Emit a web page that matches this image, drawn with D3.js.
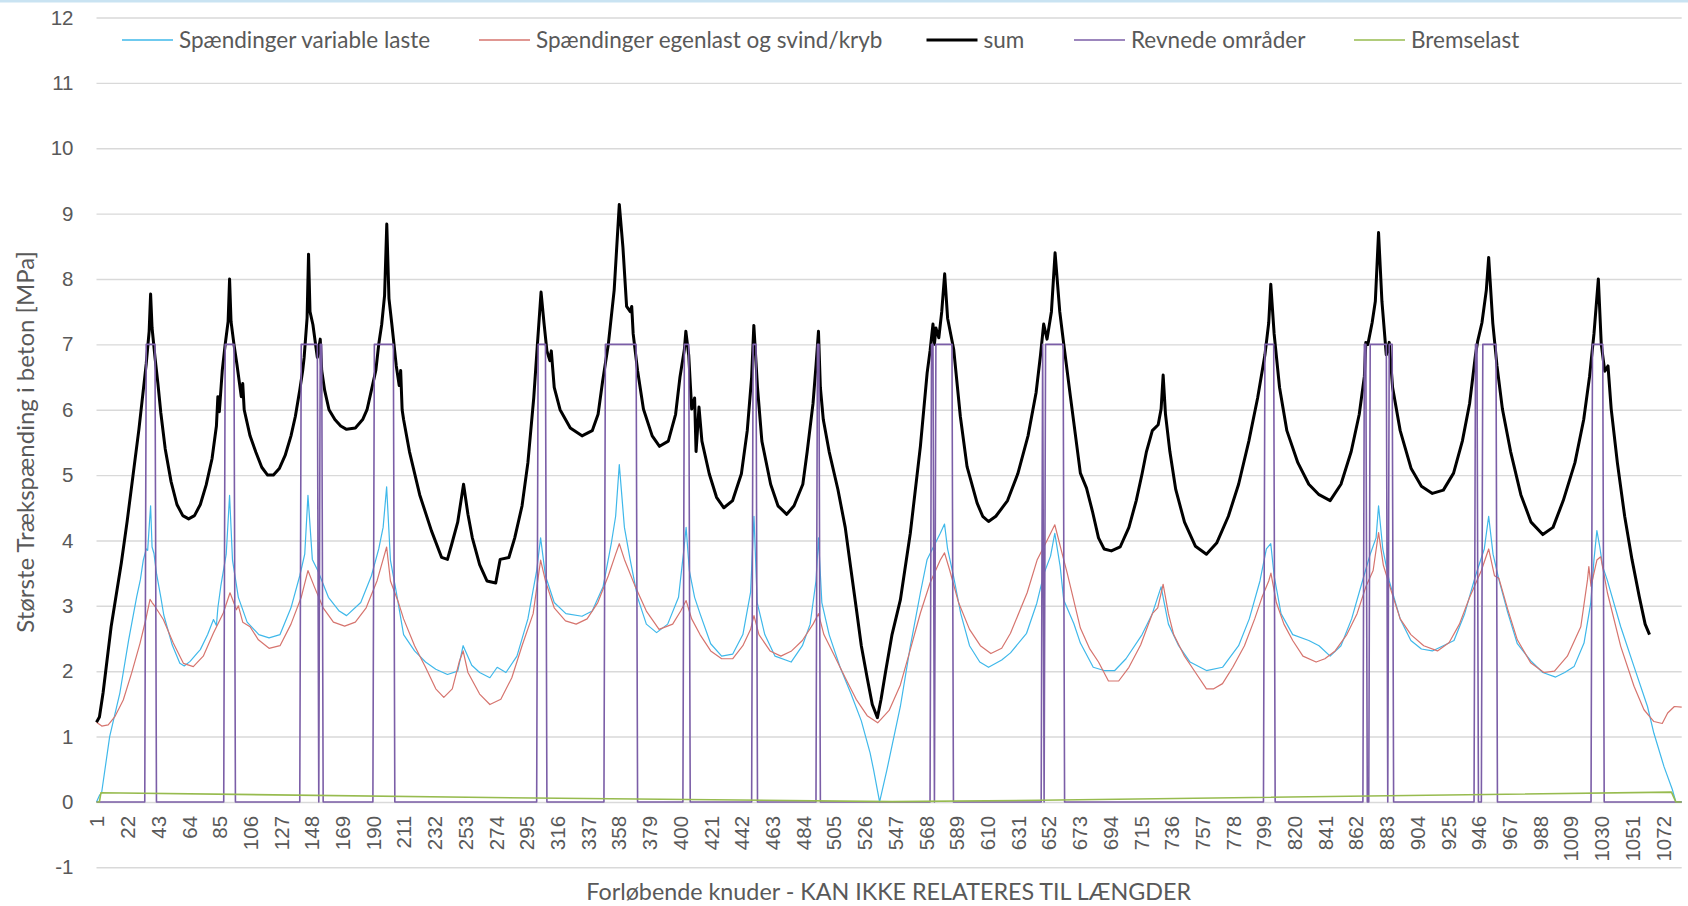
<!DOCTYPE html>
<html>
<head>
<meta charset="utf-8">
<script src="https://cdn.jsdelivr.net/npm/d3@7"></script>
<style>
  body { margin: 0; background: #fff; }
  svg { display: block; font-family: Lato, "Open Sans", sans-serif; }
</style>
</head>
<body>
<div id="chart"></div>
<script>
// node count on the category axis
const nodeCount = 1085;

const yTicks = [-1, 0, 1, 2, 3, 4, 5, 6, 7, 8, 9, 10, 11, 12];
const xTickLabels = [1, 22, 43, 64, 85, 106, 127, 148, 169, 190, 211, 232, 253, 274, 295, 316, 337, 358,
  379, 400, 421, 442, 463, 484, 505, 526, 547, 568, 589, 610, 631, 652, 673, 694, 715, 736, 757, 778,
  799, 820, 841, 862, 883, 904, 925, 946, 967, 988, 1009, 1030, 1051, 1072];

const seriesNames = ["Spændinger variable laste", "Spændinger egenlast og svind/kryb", "sum", "Revnede områder", "Bremselast"];

// [node, MPa]
const spVariable = [[1,0],[3,0.1],[4.5,0.14],[10,1.0],[17,1.67],[23,2.48],[28.5,3.14],[31,3.4],[33,3.7],[35,3.87],[36,3.85],[37,4.2],[38,4.53],[39,3.9],[40.3,3.8],[42,3.5],[45,3.13],[47,2.86],[52.8,2.4],[58,2.12],[61,2.08],[65,2.15],[70,2.28],[72,2.33],[77,2.56],[81,2.79],[83,2.7],[84,2.97],[86,3.3],[89.7,3.79],[92,4.69],[94,3.7],[98,3.13],[104,2.75],[112,2.56],[119,2.51],[126.5,2.56],[134,2.97],[140,3.46],[143.4,3.79],[145.6,4.69],[148.6,3.71],[152.3,3.54],[159.6,3.13],[167,2.92],[172,2.85],[181.7,3.05],[189,3.46],[194,3.87],[197,4.2],[199.4,4.82],[202,3.7],[206,3.21],[211,2.56],[218.5,2.31],[226,2.14],[233,2.03],[241,1.95],[248,2.0],[251.7,2.39],[257.6,2.09],[263,1.98],[270,1.9],[275,2.06],[281,1.98],[288.5,2.23],[296,2.8],[302,3.54],[304.7,4.04],[308,3.46],[314,3.05],[322,2.88],[333,2.84],[340,2.92],[347.4,3.29],[353,3.95],[356,4.37],[358.5,5.16],[362,4.2],[366,3.7],[371,3.13],[377,2.72],[384,2.59],[391.6,2.72],[399,3.13],[402.7,3.87],[404.2,4.2],[406.4,3.54],[410,3.13],[413.7,2.88],[421,2.42],[428.5,2.23],[436,2.26],[443,2.56],[448.3,3.21],[450.6,4.37],[452.8,3.05],[458,2.56],[465,2.23],[476,2.14],[483.7,2.39],[489,2.72],[493,3.38],[494.7,4.04],[497,3.05],[502,2.56],[509.5,2.06],[517,1.65],[524,1.24],[530,0.75],[532.4,0.49],[536.5,0],[541.5,0.49],[550.7,1.46],[557.5,2.38],[564.4,3.2],[569,3.71],[578,4.11],[580.9,4.25],[583,3.87],[587,3.46],[592,2.88],[598,2.39],[605,2.14],[611,2.06],[620,2.17],[626,2.28],[637,2.58],[644,3.04],[649,3.5],[653.4,3.76],[656.3,4.11],[660,3.6],[662.4,3.09],[669.3,2.73],[673.8,2.43],[682.6,2.06],[690,2.01],[697.3,2.01],[705,2.19],[716,2.56],[723,2.88],[729,3.29],[730.4,3.13],[734,2.72],[741,2.39],[748.8,2.14],[760,2.01],[771,2.06],[782,2.39],[789.3,2.8],[796.6,3.38],[801,3.87],[804,3.95],[806.3,3.46],[811,2.88],[819,2.56],[830,2.47],[837,2.39],[844.6,2.23],[852,2.39],[859.3,2.8],[866.7,3.38],[872,3.79],[876,4.04],[877.7,4.53],[880.6,3.87],[885,3.38],[892.5,2.8],[899.8,2.47],[907,2.34],[914.5,2.31],[922,2.39],[929.3,2.47],[936.6,2.88],[944,3.46],[950,3.87],[953,4.37],[956,3.79],[960,3.4],[966,2.9],[972.6,2.42],[981.7,2.16],[990,1.98],[998.8,1.91],[1005,1.98],[1011.4,2.07],[1018.2,2.43],[1022.8,3.04],[1025,3.7],[1027,4.15],[1029,3.9],[1031,3.6],[1034,3.4],[1043.3,2.68],[1052.4,2.07],[1061.6,1.46],[1066,1.05],[1072.9,0.54],[1078.6,0.19],[1081,0],[1085,0]];

const spEgenlast = [[1,1.22],[4.6,1.16],[9,1.18],[13.7,1.31],[19.3,1.56],[25,1.97],[30.8,2.43],[34.9,2.81],[37.6,3.1],[39,3.05],[41,2.99],[46.7,2.79],[53.5,2.43],[60.4,2.12],[67.2,2.07],[74,2.23],[80.9,2.58],[87.7,2.89],[92.3,3.2],[94,3.1],[96.7,2.94],[98,3.0],[101,2.75],[106,2.68],[111.7,2.48],[119,2.35],[126.5,2.39],[134,2.72],[141,3.13],[145.6,3.54],[150,3.29],[156,2.97],[163,2.75],[170.7,2.69],[178,2.75],[185.4,2.97],[192.8,3.38],[197,3.71],[199.4,3.9],[202,3.38],[207.5,3.05],[211,2.8],[218.5,2.39],[226,2.06],[233,1.73],[238.5,1.6],[244.3,1.73],[249,2.14],[251.7,2.31],[255,1.98],[263,1.65],[270,1.49],[277.5,1.57],[285,1.9],[292,2.39],[299.6,2.88],[304.7,3.7],[308,3.38],[314,2.97],[321.7,2.77],[329,2.72],[336.5,2.8],[343.8,3.05],[351,3.46],[356,3.79],[358.5,3.95],[362,3.71],[369.5,3.29],[377,2.92],[385.7,2.64],[395,2.72],[400.5,2.92],[404.2,3.08],[408,2.8],[413.7,2.56],[421,2.31],[428.5,2.19],[436,2.19],[443,2.39],[448.3,2.64],[450.6,2.85],[454,2.56],[461.6,2.31],[469,2.23],[476.3,2.31],[483.7,2.47],[491,2.72],[494.7,2.88],[498.4,2.56],[505.8,2.23],[513,1.9],[520.5,1.57],[528,1.32],[535.2,1.21],[543,1.4],[550.7,1.79],[557.5,2.33],[564.4,2.89],[571,3.35],[578,3.7],[580.9,3.81],[584.5,3.54],[590.5,3.05],[598,2.64],[605.4,2.39],[612.6,2.27],[620,2.35],[626,2.58],[637.4,3.2],[644.2,3.7],[651,4.0],[656.3,4.24],[660.5,3.87],[664.8,3.5],[673.8,2.66],[680,2.35],[686.2,2.14],[693,1.85],[700,1.85],[707,2.06],[715,2.4],[723,2.88],[726.7,2.97],[730.4,3.33],[734,2.88],[737.6,2.56],[745,2.23],[752.5,1.98],[760,1.73],[765,1.73],[771,1.81],[778,2.06],[786,2.39],[793,2.8],[798,3.13],[802.6,3.38],[804.1,3.5],[807.8,3.05],[813,2.72],[819,2.47],[826,2.23],[835,2.14],[841,2.19],[848,2.31],[856,2.56],[863,2.88],[869,3.29],[874,3.54],[877.7,4.12],[881,3.62],[886.6,3.21],[892.5,2.8],[899.8,2.56],[908.6,2.39],[918,2.31],[926,2.44],[933,2.72],[940,3.13],[948,3.54],[953,3.87],[957,3.46],[960,3.42],[966,2.95],[972.6,2.48],[981.7,2.13],[990.8,1.98],[998,2.0],[1006.8,2.23],[1016,2.68],[1020.6,3.4],[1021.5,3.6],[1023,3.3],[1025,3.5],[1027,3.7],[1029.6,3.75],[1034.2,3.2],[1043.3,2.38],[1052.4,1.77],[1059.2,1.41],[1066,1.23],[1071.7,1.2],[1075.4,1.36],[1080,1.46],[1085,1.45]];

const spSum = [[1,1.22],[3,1.3],[5.5,1.67],[11,2.68],[18,3.66],[22,4.3],[26,5.0],[30,5.7],[33,6.3],[35,6.7],[37,7.2],[38,7.77],[39,7.25],[41,6.8],[43,6.4],[45,5.95],[48,5.4],[52,4.9],[56,4.55],[60,4.38],[64,4.33],[68,4.38],[72,4.55],[76,4.85],[80,5.25],[83,5.75],[84,6.2],[85,5.97],[87,6.6],[89,7.0],[91,7.35],[92,8.0],[93,7.35],[95,7.0],[97,6.7],[100,6.2],[101,6.4],[102,6.0],[106,5.6],[110,5.35],[114,5.12],[118,5.0],[122,5.0],[126,5.1],[130,5.3],[134,5.6],[137,5.9],[140,6.3],[142,6.6],[143,6.8],[145,7.4],[146,8.38],[147,7.5],[149,7.3],[152,6.8],[154,7.08],[155,6.6],[157,6.3],[160,6.0],[164,5.85],[168,5.75],[172,5.7],[178,5.72],[183,5.85],[186,6.0],[189,6.3],[192,6.6],[194,7.0],[196,7.3],[198,7.75],[199.5,8.84],[201,7.7],[203,7.3],[206,6.67],[208,6.37],[209,6.6],[210,6.0],[211,5.85],[215,5.36],[222,4.7],[230,4.15],[237,3.74],[241,3.71],[244,3.95],[248,4.28],[252,4.86],[255,4.4],[258,4.04],[263,3.63],[268,3.38],[274,3.35],[277,3.71],[283,3.74],[287,4.04],[292,4.53],[296,5.19],[300,6.18],[302.5,7.0],[305,7.8],[307,7.33],[309,6.9],[311,6.75],[312,6.9],[314,6.34],[318,6.0],[325,5.72],[333,5.6],[340,5.68],[344,5.93],[347,6.42],[351,7.0],[355,7.83],[358.5,9.14],[361,8.48],[363.5,7.58],[366,7.5],[367,7.58],[368,7.16],[371,6.6],[375,6.01],[381,5.6],[386,5.44],[392,5.52],[397,5.93],[400,6.5],[403,6.92],[404,7.2],[406,6.83],[408,6.01],[410,6.18],[411,5.36],[413,6.04],[415,5.52],[420,5.02],[425,4.66],[430,4.5],[436,4.61],[442,5.02],[446,5.68],[449,6.5],[450.5,7.29],[453,6.34],[456,5.52],[462,4.86],[467,4.53],[473,4.4],[478,4.53],[484,4.86],[487,5.36],[491,6.1],[493,6.67],[494.7,7.2],[496,6.34],[498,5.85],[502,5.36],[508,4.78],[513,4.2],[517,3.54],[520.5,2.97],[524,2.39],[528,1.9],[531.5,1.49],[535,1.29],[537.5,1.57],[540.5,1.98],[545,2.56],[550.7,3.09],[557.5,4.11],[564.4,5.44],[569,6.56],[571,6.9],[573,7.31],[574,7.0],[575,7.25],[577,7.1],[579,7.5],[581,8.08],[583,7.4],[587.2,6.92],[591.7,5.9],[596.3,5.13],[603.2,4.57],[607,4.37],[611,4.29],[616,4.37],[624,4.61],[631,5.02],[638,5.6],[643.5,6.26],[646.5,6.83],[648.7,7.31],[651,7.08],[654,7.5],[656.5,8.4],[659.7,7.5],[662.4,7.01],[667,6.2],[673.8,5.03],[678,4.8],[682,4.45],[686.2,4.04],[690,3.87],[695,3.84],[701,3.9],[707,4.2],[712,4.61],[716,5.02],[719,5.36],[723,5.68],[727,5.77],[729,6.01],[730.4,6.53],[732,5.93],[735,5.36],[739,4.78],[745,4.28],[752.5,3.91],[760,3.79],[767,3.96],[775,4.37],[782,4.86],[789,5.52],[795,6.18],[800,6.84],[802.6,7.33],[804,7.92],[806.3,7.16],[810,6.34],[815,5.68],[822.5,5.19],[830,4.86],[837,4.7],[844.6,4.61],[852,4.86],[859,5.36],[864.5,5.93],[868,6.51],[869,7.03],[870.4,7.0],[873.3,7.33],[875.5,7.66],[877.7,8.71],[880,7.66],[883,6.84],[885,7.03],[887.3,6.34],[892.5,5.68],[900,5.1],[907,4.83],[914.5,4.72],[922,4.77],[929,5.03],[935,5.52],[940,6.1],[944,6.84],[945.5,7.05],[948.4,7.33],[951.4,7.83],[953,8.33],[955.8,7.33],[958.7,6.67],[962.4,6.01],[968,5.36],[975,4.7],[982,4.28],[990,4.09],[997,4.2],[1004,4.61],[1012,5.19],[1018,5.85],[1022,6.51],[1025,7.16],[1028,8.0],[1030,7.0],[1032.4,6.59],[1034.6,6.67],[1036.8,6.01],[1041,5.19],[1046,4.37],[1051,3.71],[1056,3.14],[1060,2.72],[1063,2.56]];

// cracked zones: node ranges where the marker sits at revnedeLevel
const revnedeLevel = 7;
const revnedeRanges = [[35,41],[89,95],[141,152],[154,155],[191,204],[303,308],[349,370],[403,406],[450,452],[494,495],[572,573],[575,586],[648,648],[650,662],[800,806],[868,869],[872,883],[885,887],[944,945],[949,958],[1024,1031]];

const bremselast = [[1,0],[3,0],[4,0.14],[300,0.06],[545,0.005],[646,0.025],[1078,0.15],[1081,0],[1085,0]];

const colors = ["#3fb8ea", "#d6746e", "#000000", "#7b5ea7", "#97bb4f"];
const widths = [1.2, 1.2, 3, 1.6, 1.6];

// ---- layout
const width = 1688, height = 906;
const left = 96.5, right = 1681.7;

const svg = d3.select("#chart").append("svg")
  .attr("width", width)
  .attr("height", height);

// thin border on top edge of the chart area
svg.append("rect")
  .attr("x", 0).attr("y", 0)
  .attr("width", width).attr("height", 2.5)
  .attr("fill", "#c9e3f2");

const x = d3.scaleLinear().domain([1, nodeCount]).range([left, right]);
const y = d3.scaleLinear().domain([-1, 12]).range([867.3, 17.5]);

// y gridlines + labels
const yAxis = svg.append("g")
  .attr("transform", `translate(${left},0)`)
  .call(d3.axisLeft(y).tickValues(yTicks).tickSize(-(right - left)).tickPadding(23).tickFormat(d => String(d)));
yAxis.select(".domain").remove();
yAxis.selectAll(".tick line").attr("stroke", "#d9d9d9").attr("stroke-width", 1.4);
yAxis.selectAll(".tick text")
  .attr("fill", "#595959")
  .style("font-size", "20.5px");

// x labels, rotated
const xAxis = svg.append("g")
  .attr("transform", `translate(0,${y(0)})`)
  .call(d3.axisBottom(x).tickValues(xTickLabels).tickSize(0).tickFormat(d => String(d)));
xAxis.select(".domain").remove();
xAxis.selectAll(".tick text")
  .attr("transform", "rotate(-90)")
  .attr("text-anchor", "end")
  .attr("x", -14)
  .attr("y", 0)
  .attr("dy", "0.36em")
  .attr("fill", "#595959")
  .style("font-size", "20.5px");

// lines
const line = d3.line().x(d => x(d[0])).y(d => y(d[1]));

let revnedePts = [[1, 0]];
revnedeRanges.forEach(r => {
  revnedePts.push([r[0] - 1, 0], [r[0], revnedeLevel], [r[1], revnedeLevel], [r[1] + 1, 0]);
});
revnedePts.push([nodeCount, 0]);

const allSeries = [spVariable, spEgenlast, spSum, revnedePts, bremselast];

svg.append("g").selectAll("path")
  .data(allSeries)
  .enter().append("path")
  .attr("d", d => line(d))
  .attr("fill", "none")
  .attr("stroke", (d, i) => colors[i])
  .attr("stroke-width", (d, i) => widths[i])
  .attr("stroke-linejoin", "round");

// legend
const legendX = [122, 479, 926.5, 1074, 1354];
const legendY = 40;
const leg = svg.append("g").selectAll("g")
  .data(seriesNames)
  .enter().append("g")
  .attr("transform", (d, i) => `translate(${legendX[i]},${legendY})`);
leg.append("line")
  .attr("x1", 0).attr("x2", 51)
  .attr("stroke", (d, i) => colors[i])
  .attr("stroke-width", (d, i) => i == 2 ? 3 : 1.4);
leg.append("text")
  .attr("x", 57)
  .attr("dy", "0.35em")
  .attr("fill", "#595959")
  .style("font-size", "22.5px")
  .text(d => d);

// axis titles
svg.append("text")
  .attr("transform", "translate(26,442) rotate(-90)")
  .attr("text-anchor", "middle")
  .attr("dy", "0.35em")
  .attr("fill", "#595959")
  .style("font-size", "24px")
  .text("Største Trækspænding i beton [MPa]");

svg.append("text")
  .attr("x", 888.7)
  .attr("y", 892)
  .attr("text-anchor", "middle")
  .attr("dy", "0.35em")
  .attr("fill", "#595959")
  .style("font-size", "23.3px")
  .text("Forløbende knuder - KAN IKKE RELATERES TIL LÆNGDER");
</script>
</body>
</html>
